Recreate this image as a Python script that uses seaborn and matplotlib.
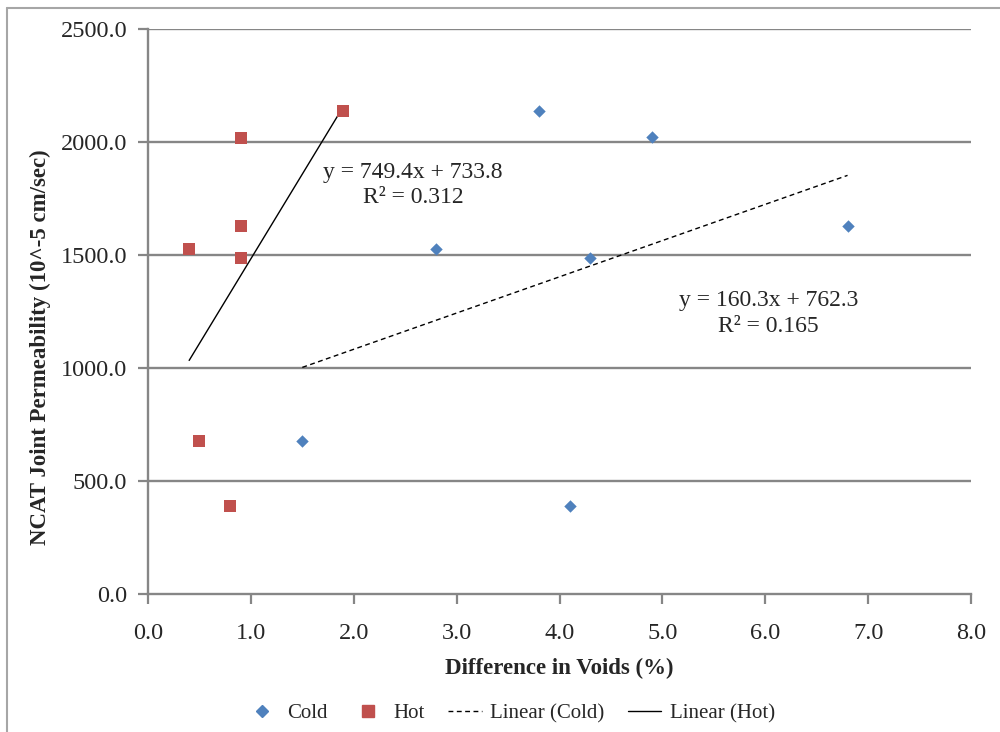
import matplotlib
matplotlib.use("Agg")
import matplotlib.pyplot as plt
import seaborn as sns
import pandas as pd
import numpy as np
from matplotlib.lines import Line2D

# ---- data ----
cold_x = [1.5, 2.8, 3.8, 4.1, 4.3, 4.9, 6.8]
cold_y = [677, 1527, 2137, 389, 1487, 2022, 1628]
hot_x = [0.4, 0.5, 0.8, 0.9, 0.9, 0.9, 1.9]
hot_y = [1527, 677, 389, 2018, 1628, 1487, 2137]
cold_fit = [160.3, 762.3]   # slope, intercept
hot_fit = [749.4, 733.8]
cold_eq = ["y = 160.3x + 762.3", "R² = 0.165"]
hot_eq = ["y = 749.4x + 733.8", "R² = 0.312"]
x_ticks = [0, 1, 2, 3, 4, 5, 6, 7, 8]
y_ticks = [0, 500, 1000, 1500, 2000, 2500]

sns.set_theme(style="white")
plt.rcParams['font.family'] = ['Liberation Serif', 'DejaVu Serif']

cold_df = pd.DataFrame({"x": cold_x, "y": cold_y})
hot_df = pd.DataFrame({"x": hot_x, "y": hot_y})

fig = plt.figure(figsize=(10, 7.32), dpi=100)
ax = fig.add_axes([0.148, 0.1885, 0.823, 0.7719])

grid_c = "#868686"
for yt in y_ticks[1:]:
    ax.axhline(yt, color=grid_c, lw=1.7, zorder=0)

sns.scatterplot(data=cold_df, x="x", y="y", color="#4F81BD", marker="D",
                s=40, linewidth=0, legend=False, ax=ax, zorder=3)
sns.scatterplot(data=hot_df, x="x", y="y", color="#C0504D", marker="s",
                s=78, linewidth=0, legend=False, ax=ax, zorder=3)

def trend(xs, fit, ls):
    xr = np.array([min(xs), max(xs)])
    ax.plot(xr, fit[0] * xr + fit[1], color="black", lw=1.0, ls=ls, zorder=2)

dash = (0, (3.5, 2.5))
trend(cold_x, cold_fit, dash)
trend(hot_x, hot_fit, "-")

ax.text(2.576, 1810, hot_eq[0] + "\n" + hot_eq[1], ha="center", va="center",
        fontsize=17, linespacing=1.22)
ax.text(6.03, 1240, cold_eq[0] + "\n" + cold_eq[1], ha="center", va="center",
        fontsize=17, linespacing=1.3)

ax.set_xlim(0, 8)
ax.set_ylim(0, 2500)
ax.set_xticks(x_ticks)
ax.set_yticks(y_ticks)
ax.set_xticklabels([f"{v:.1f}" for v in x_ticks], fontsize=17.5)
ax.set_yticklabels([f"{v:.1f}" for v in y_ticks], fontsize=17.5)
ax.tick_params(axis="both", direction="out", length=7, width=1.6, color=grid_c,
               bottom=True, left=True)
ax.tick_params(axis="y", pad=8)
ax.tick_params(axis="x", pad=14)
for side in ["top", "right"]:
    ax.spines[side].set_visible(False)
for side in ["left", "bottom"]:
    ax.spines[side].set_color(grid_c)
    ax.spines[side].set_linewidth(1.7)

ax.set_xlabel("Difference in Voids (%)", fontsize=16.5, fontweight="bold", labelpad=10)
ax.set_ylabel("NCAT Joint Permeability (10^-5 cm/sec)", fontsize=16.5,
              fontweight="bold", labelpad=7)
ax.yaxis.label.set_y(0.437)

handles = [
    Line2D([], [], ls="none", marker="D", color="#4F81BD", markersize=6.3),
    Line2D([], [], ls="none", marker="s", color="#C0504D", markersize=8.8),
    Line2D([], [], color="black", lw=1.0, ls=dash),
    Line2D([], [], color="black", lw=1.0),
]
fig.legend(handles, ["Cold", "Hot", "Linear (Cold)", "Linear (Hot)"],
           loc="center", bbox_to_anchor=(0.51, 0.025), ncol=4, frameon=False,
           fontsize=15, handlelength=1.6, columnspacing=1.15, handletextpad=0.4)

# outer chart border (top and left visible)
fig.add_artist(Line2D([0.007, 1.0], [1 - 8 / 732, 1 - 8 / 732], color="#A6A6A6",
                      lw=1.5, transform=fig.transFigure))
fig.add_artist(Line2D([0.007, 0.007], [0, 1 - 8 / 732], color="#A6A6A6",
                      lw=1.5, transform=fig.transFigure))

fig.savefig("out.png", dpi=100)
